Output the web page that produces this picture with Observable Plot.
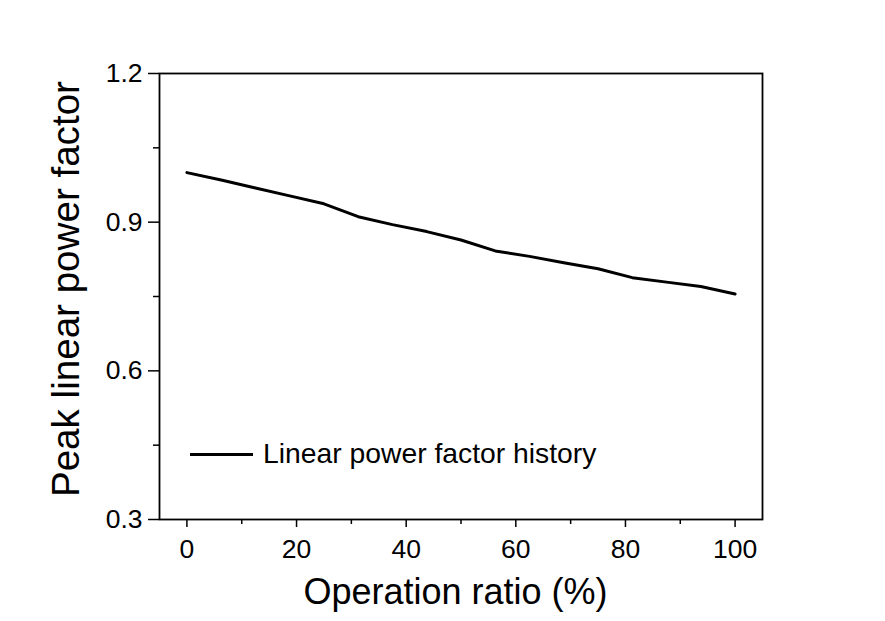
<!DOCTYPE html>
<html>
<head>
<meta charset="utf-8">
<script src="https://cdn.jsdelivr.net/npm/d3@7"></script>
<script src="https://cdn.jsdelivr.net/npm/@observablehq/plot@0.6"></script>
<style>
  html, body { margin: 0; padding: 0; background: #fff; }
  #wrap { position: relative; width: 885px; height: 621px; font-family: "Liberation Sans", Arial, sans-serif; }
  #legend { position: absolute; left: 190px; top: 437px; display: flex; align-items: center; font-size: 28.3px; color: #000; white-space: nowrap; }
  #legend .swatch { width: 63px; height: 0; border-top: 3px solid #000; margin-right: 10px; margin-top: 2px; }
</style>
</head>
<body>
<div id="wrap"><div id="legend"><span class="swatch"></span><span>Linear power factor history</span></div></div>
<script>
const ratio = [0, 6.25, 12.5, 18.75, 25, 31.25, 37.5, 43.75, 50, 56.25, 62.5, 68.75, 75, 81.25, 87.5, 93.75, 100];
const factor = [1.000, 0.985, 0.969, 0.953, 0.937, 0.911, 0.895, 0.881, 0.864, 0.842, 0.831, 0.818, 0.806, 0.788, 0.779, 0.770, 0.755];
const xMajor = [0, 20, 40, 60, 80, 100];
const xMinor = [10, 30, 50, 70, 90];
const yMajor = [0.3, 0.6, 0.9, 1.2];
const yMinor = [0.45, 0.75, 1.05];
const xTitle = "Operation ratio (%)";
const yTitle = "Peak linear power factor";
const seriesName = "Linear power factor history";

const data = ratio.map((r, i) => ({ratio: r, factor: factor[i]}));

const chart = Plot.plot({
  width: 885,
  height: 621,
  marginLeft: 159,
  marginRight: 123,
  marginTop: 73,
  marginBottom: 102,
  style: {fontFamily: "'Liberation Sans', Arial, sans-serif", color: "#000", background: "#fff"},
  x: {domain: [-5, 105]},
  y: {domain: [0.3, 1.2]},
  marks: [
    Plot.frame({stroke: "#000", strokeWidth: 1.8}),
    Plot.axisX({ticks: xMajor, tickSize: 8, tickPadding: 12, fontSize: 26.5, label: null, strokeWidth: 1.5, tickFormat: d => String(d)}),
    Plot.axisX({ticks: xMinor, tickSize: 5, text: null, label: null, strokeWidth: 1.5}),
    Plot.axisY({ticks: yMajor, tickSize: 11, tickPadding: 6, fontSize: 26.5, label: null, strokeWidth: 1.5, tickFormat: d => d.toFixed(1)}),
    Plot.axisY({ticks: yMinor, tickSize: 6, text: null, label: null, strokeWidth: 1.5}),
    Plot.line(data, {x: "ratio", y: "factor", stroke: "#000", strokeWidth: 3, curve: "linear"}),
    Plot.text([xTitle], {x: 49, frameAnchor: "bottom", dy: 73, fontSize: 36, textAnchor: "middle", lineAnchor: "middle", fill: "#000"}),
    Plot.text([yTitle], {y: 0.765, frameAnchor: "left", dx: -93, rotate: -90, fontSize: 38.6, textAnchor: "middle", lineAnchor: "middle", fill: "#000"})
  ]
});
document.getElementById("wrap").prepend(chart);
document.querySelector("#legend span:last-child").textContent = seriesName;
</script>
</body>
</html>
